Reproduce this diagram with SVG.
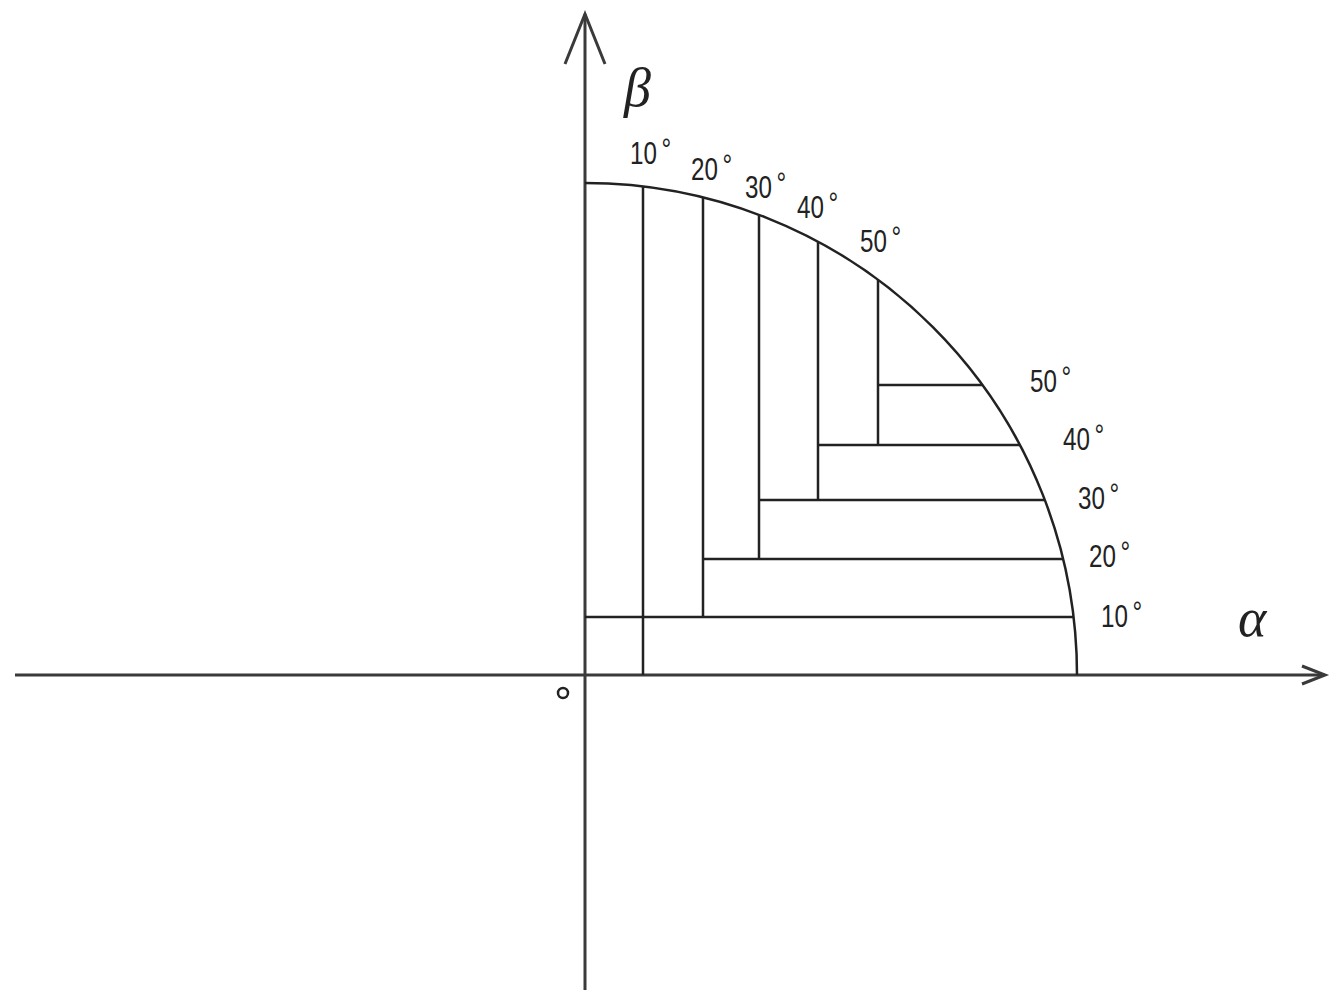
<svg xmlns="http://www.w3.org/2000/svg" width="1339" height="1000" viewBox="0 0 1339 1000">
<style>
.ax{stroke:#3a3a3a;stroke-width:3;fill:none}
.ln{stroke:#222;stroke-width:2.5;fill:none}
.lb{font-family:"Liberation Sans",Arial,sans-serif;font-size:31px;fill:#222}
.gk{font-family:"Liberation Serif","DejaVu Serif",serif;font-style:italic;font-size:54px;fill:#222}
</style>
<rect width="1339" height="1000" fill="#fff"/>
<g id="axes">
<line class="ax" x1="15" y1="675" x2="1324" y2="675"/>
<polyline class="ax" points="1302,666 1325,675 1302,684"/>
<line class="ax" x1="585" y1="990" x2="585" y2="14"/>
<polyline class="ax" points="565,64 585,14 605,64"/>
<circle cx="563" cy="693" r="5" fill="none" stroke="#222" stroke-width="2.5"/>
<text class="gk" x="624" y="106">β</text>
<text class="gk" x="1238" y="636">α</text>
</g>
<g id="arc">
<path class="ln" d="M585,183 A492,492 0 0 1 1077,675"/>
</g>
<g id="connectors">
<line class="ln" x1="643" y1="186.5" x2="643" y2="675"/>
<line class="ln" x1="703" y1="197.5" x2="703" y2="617"/>
<line class="ln" x1="759" y1="215" x2="759" y2="559"/>
<line class="ln" x1="818" y1="242" x2="818" y2="500"/>
<line class="ln" x1="878" y1="280" x2="878" y2="445"/>
<line class="ln" x1="585" y1="617" x2="1073.5" y2="617"/>
<line class="ln" x1="703" y1="559" x2="1063" y2="559"/>
<line class="ln" x1="759" y1="500" x2="1045" y2="500"/>
<line class="ln" x1="818" y1="445" x2="1020" y2="445"/>
<line class="ln" x1="878" y1="385" x2="982" y2="385"/>
</g>
<g id="labels">
<text class="lb" transform="translate(630,164) scale(0.78,1)">10<tspan dx="6" dy="-4">°</tspan></text>
<text class="lb" transform="translate(691,180) scale(0.78,1)">20<tspan dx="6" dy="-4">°</tspan></text>
<text class="lb" transform="translate(745,198) scale(0.78,1)">30<tspan dx="6" dy="-4">°</tspan></text>
<text class="lb" transform="translate(797,218) scale(0.78,1)">40<tspan dx="6" dy="-4">°</tspan></text>
<text class="lb" transform="translate(860,252) scale(0.78,1)">50<tspan dx="6" dy="-4">°</tspan></text>
<text class="lb" transform="translate(1030,392) scale(0.78,1)">50<tspan dx="6" dy="-4">°</tspan></text>
<text class="lb" transform="translate(1063,450) scale(0.78,1)">40<tspan dx="6" dy="-4">°</tspan></text>
<text class="lb" transform="translate(1078,509) scale(0.78,1)">30<tspan dx="6" dy="-4">°</tspan></text>
<text class="lb" transform="translate(1089,567) scale(0.78,1)">20<tspan dx="6" dy="-4">°</tspan></text>
<text class="lb" transform="translate(1101,627) scale(0.78,1)">10<tspan dx="6" dy="-4">°</tspan></text>
</g>
</svg>
